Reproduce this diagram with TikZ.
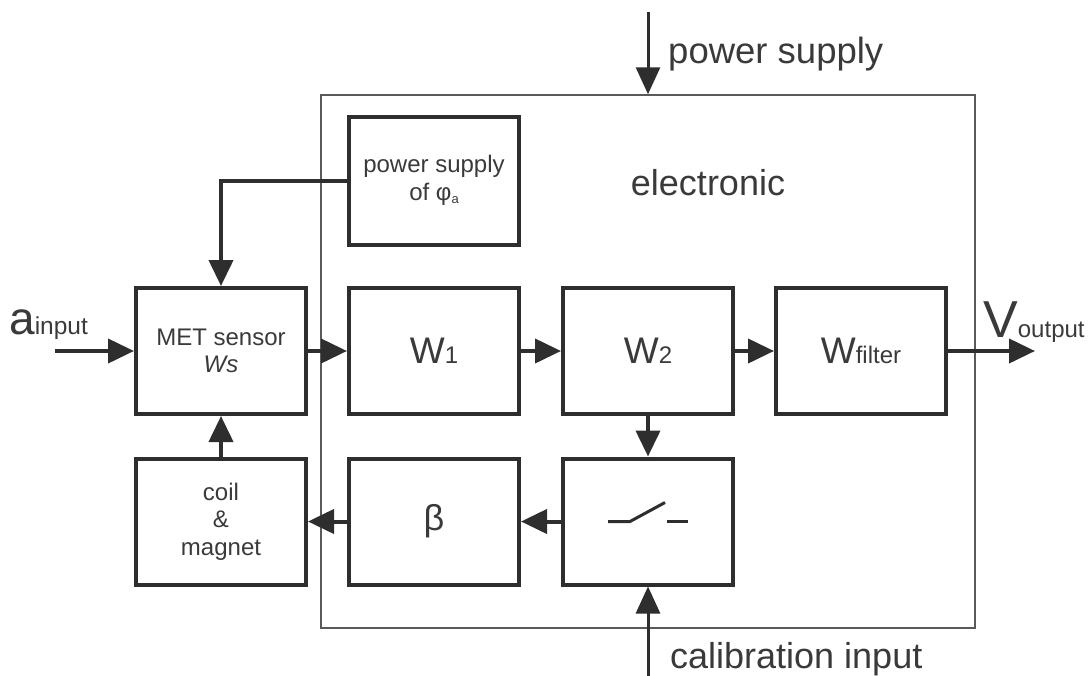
\documentclass[tikz,border=0pt]{standalone}
\usepackage{fontspec}
\setmainfont{Liberation Sans}
\usetikzlibrary{arrows.meta}
\definecolor{ln}{HTML}{2E2E2E}
\definecolor{tx}{HTML}{3A3A3A}
\definecolor{framec}{HTML}{5A5A5A}
\newcommand\fsz[2]{\fontsize{#1pt}{#2pt}\selectfont}
\begin{document}
\begin{tikzpicture}[x=1pt,y=-1pt,
  blk/.style={draw=ln, line width=4pt, minimum width=170pt, minimum height=126pt,
    inner sep=0pt, text=tx, align=center, font=\fsz{24}{27.5}},
  conn/.style={draw=ln, line width=4pt, -{Triangle[length=26pt,width=24pt]}},
  ext/.style={draw=ln, line width=3pt, -{Triangle[length=27pt,width=24pt]}},
  lbl/.style={text=tx, inner sep=0pt, anchor=base west}]
\useasboundingbox (0,0) rectangle (1089,675);
\fill[white] (0,0) rectangle (1089,675);

% electronic frame
\node[draw=framec, line width=1.5pt, minimum width=654pt, minimum height=533pt, inner sep=0pt] (elec) at (648,361.5) {};
\node[text=tx, inner sep=0pt, anchor=base, font=\fsz{36}{36}] (electxt) at (708,195) {electronic};

% blocks
\node[blk, minimum height=128pt] (ps) at (434,180.5) {power supply\\of φ\raisebox{-3pt}{\fsz{13}{13}a}};
\node[blk] (met) at (221,351) {MET sensor\\\textit{Ws}};
\node[blk] (w1) at (434,351) {{\fsz{37}{37}W}{\fsz{24}{24}1}};
\node[blk] (w2) at (648,351) {{\fsz{37}{37}W}{\fsz{24}{24}2}};
\node[blk] (wf) at (861,351) {{\fsz{37}{37}W}{\fsz{24}{24}filter}};
\node[blk] (coil) at (221,521.5) {coil\\\&\\magnet};
\node[blk] (beta) at (434,521.5) {\fsz{36}{36}β};
\node[blk] (sw) at (648,521.5) {};

% switch symbol
\draw[ln, line width=3pt] ([xshift=-40pt]sw.center) -- ++(22,0) -- ++(35,-19);
\draw[ln, line width=3pt] ([xshift=19pt]sw.center) -- ++(21,0);

% external coordinates
\coordinate (ain) at (55,351);
\coordinate (vout) at (1035,351);
\coordinate (pstop) at (648,12);
\coordinate (calbot) at (648,676);

% connectors
\draw[conn] (ain) -- (met.west);
\draw[conn] (met.east) -- (w1.west);
\draw[conn] (w1.east) -- (w2.west);
\draw[conn] (w2.east) -- (wf.west);
\draw[conn] (wf.east) -- (vout);
\draw[conn] (w2.south) -- (sw.north);
\draw[conn] (sw.west) -- (beta.east);
\draw[conn] (beta.west) -- (coil.east);
\draw[conn] (coil.north) -- (met.south);
\draw[conn] (ps.west) -| (met.north);
\draw[ext] (pstop) -- (elec.north);
\draw[ext] (calbot) -- (sw.south);

% labels
\node[lbl, font=\fsz{36.5}{36.5}] (pslbl) at (668,63) {power supply};
\node[lbl, font=\fsz{36}{36}] (callbl) at (670,668) {calibration input};
\node[lbl] (ainlbl) at (9,334) {{\fsz{46}{46}a}{\fsz{24.5}{24.5}input}};
\node[lbl] (voutlbl) at (983,337) {{\fsz{52}{52}V}{\fsz{24}{24}output}};
\end{tikzpicture}
\end{document}
